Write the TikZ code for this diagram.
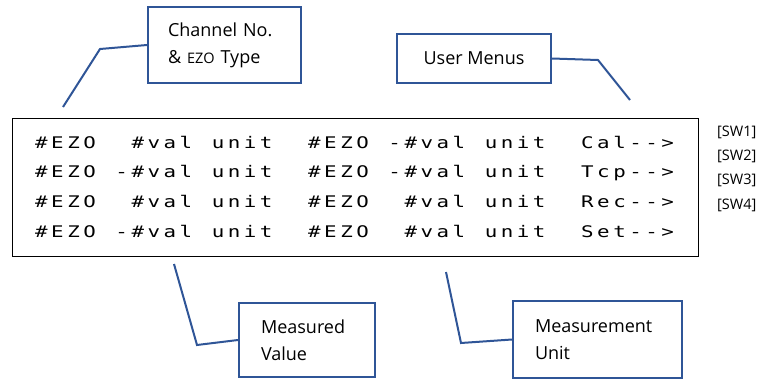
\documentclass[tikz,border=0pt]{standalone}
\usepackage{fontspec}
\setmainfont{Open Sans}
\newfontfamily\lcdfont[FakeStretch=1.3]{DejaVu Sans Mono}
\definecolor{calloutblue}{HTML}{2F5597}
\newlength{\lcdpitch}
\setlength{\lcdpitch}{16.06pt}
% one fixed-width cell per character, like the display
\newcommand{\lcdline}[1]{\lcdchar#1\relax}
\newcommand{\lcdchar}[1]{\ifx\relax#1\else\makebox[\lcdpitch][c]{#1}\expandafter\lcdchar\fi}
\tikzset{
  callout/.style={draw=calloutblue, line width=2pt, inner ysep=0pt, align=left,
    font=\fontsize{18pt}{27pt}\selectfont},
  leader/.style={draw=calloutblue, line width=2pt},
  lcd/.style={font=\lcdfont\fontsize{16pt}{16pt}\selectfont, inner sep=0pt, anchor=base west},
  swlabel/.style={font=\fontsize{14.5pt}{14.5pt}\selectfont, inner sep=0pt, anchor=west}
}
\begin{document}
\begin{tikzpicture}[x=1pt, y=-1pt]
  \useasboundingbox (0,0) rectangle (779,380);
  % display
  \node[draw, line width=1.8pt, minimum width=686pt, minimum height=138pt, inner sep=0pt] (display) at (355.5,187.5) {};
  \foreach \txt [count=\i] in {
      {\#EZO~~\#val~unit~~\#EZO~-\#val~unit~~Cal-->},
      {\#EZO~-\#val~unit~~\#EZO~-\#val~unit~~Tcp-->},
      {\#EZO~~\#val~unit~~\#EZO~~\#val~unit~~Rec-->},
      {\#EZO~-\#val~unit~~\#EZO~~\#val~unit~~Set-->}}{
    \node[lcd] (row\i) at (33.2, 118.2+29.8*\i) {\expandafter\lcdline\expandafter{\txt}};
  }
  \foreach \i in {1,2,3,4}{
    \node[swlabel] (sw\i) at (717, 107.6+24.4*\i) {[SW\i]};
  }
  % callouts
  \node[callout, text width=113pt, inner xsep=20pt, minimum height=76pt] (chan) at (224.5,45) {Channel No.\\ \& {\fontsize{14.5pt}{27pt}\selectfont EZO} Type};
  \node[callout, align=center, minimum width=154pt, minimum height=49pt, inner xsep=0pt] (menu) at (474,58.5) {User Menus};
  \node[callout, text width=92pt, inner xsep=22pt, minimum height=74pt] (meas) at (307,340) {Measured\\ Value};
  \node[callout, text width=125pt, inner xsep=22pt, minimum height=77pt] (unit) at (597.5,339.5) {Measurement\\ Unit};
  % leader lines
  \coordinate (chanbend) at (100,49);
  \coordinate (chantip) at (63,107);
  \coordinate (menubend) at (598,60);
  \coordinate (menutip) at (630,100);
  \coordinate (measbend) at (197,345);
  \coordinate (meastip) at (174,264);
  \coordinate (unitbend) at (461,343);
  \coordinate (unittip) at (446,272);
  \draw[leader] (chan.west) -- (chanbend) -- (chantip);
  \draw[leader] (menu.east) -- (menubend) -- (menutip);
  \draw[leader] (meas.west) -- (measbend) -- (meastip);
  \draw[leader] (unit.west) -- (unitbend) -- (unittip);
\end{tikzpicture}
\end{document}
